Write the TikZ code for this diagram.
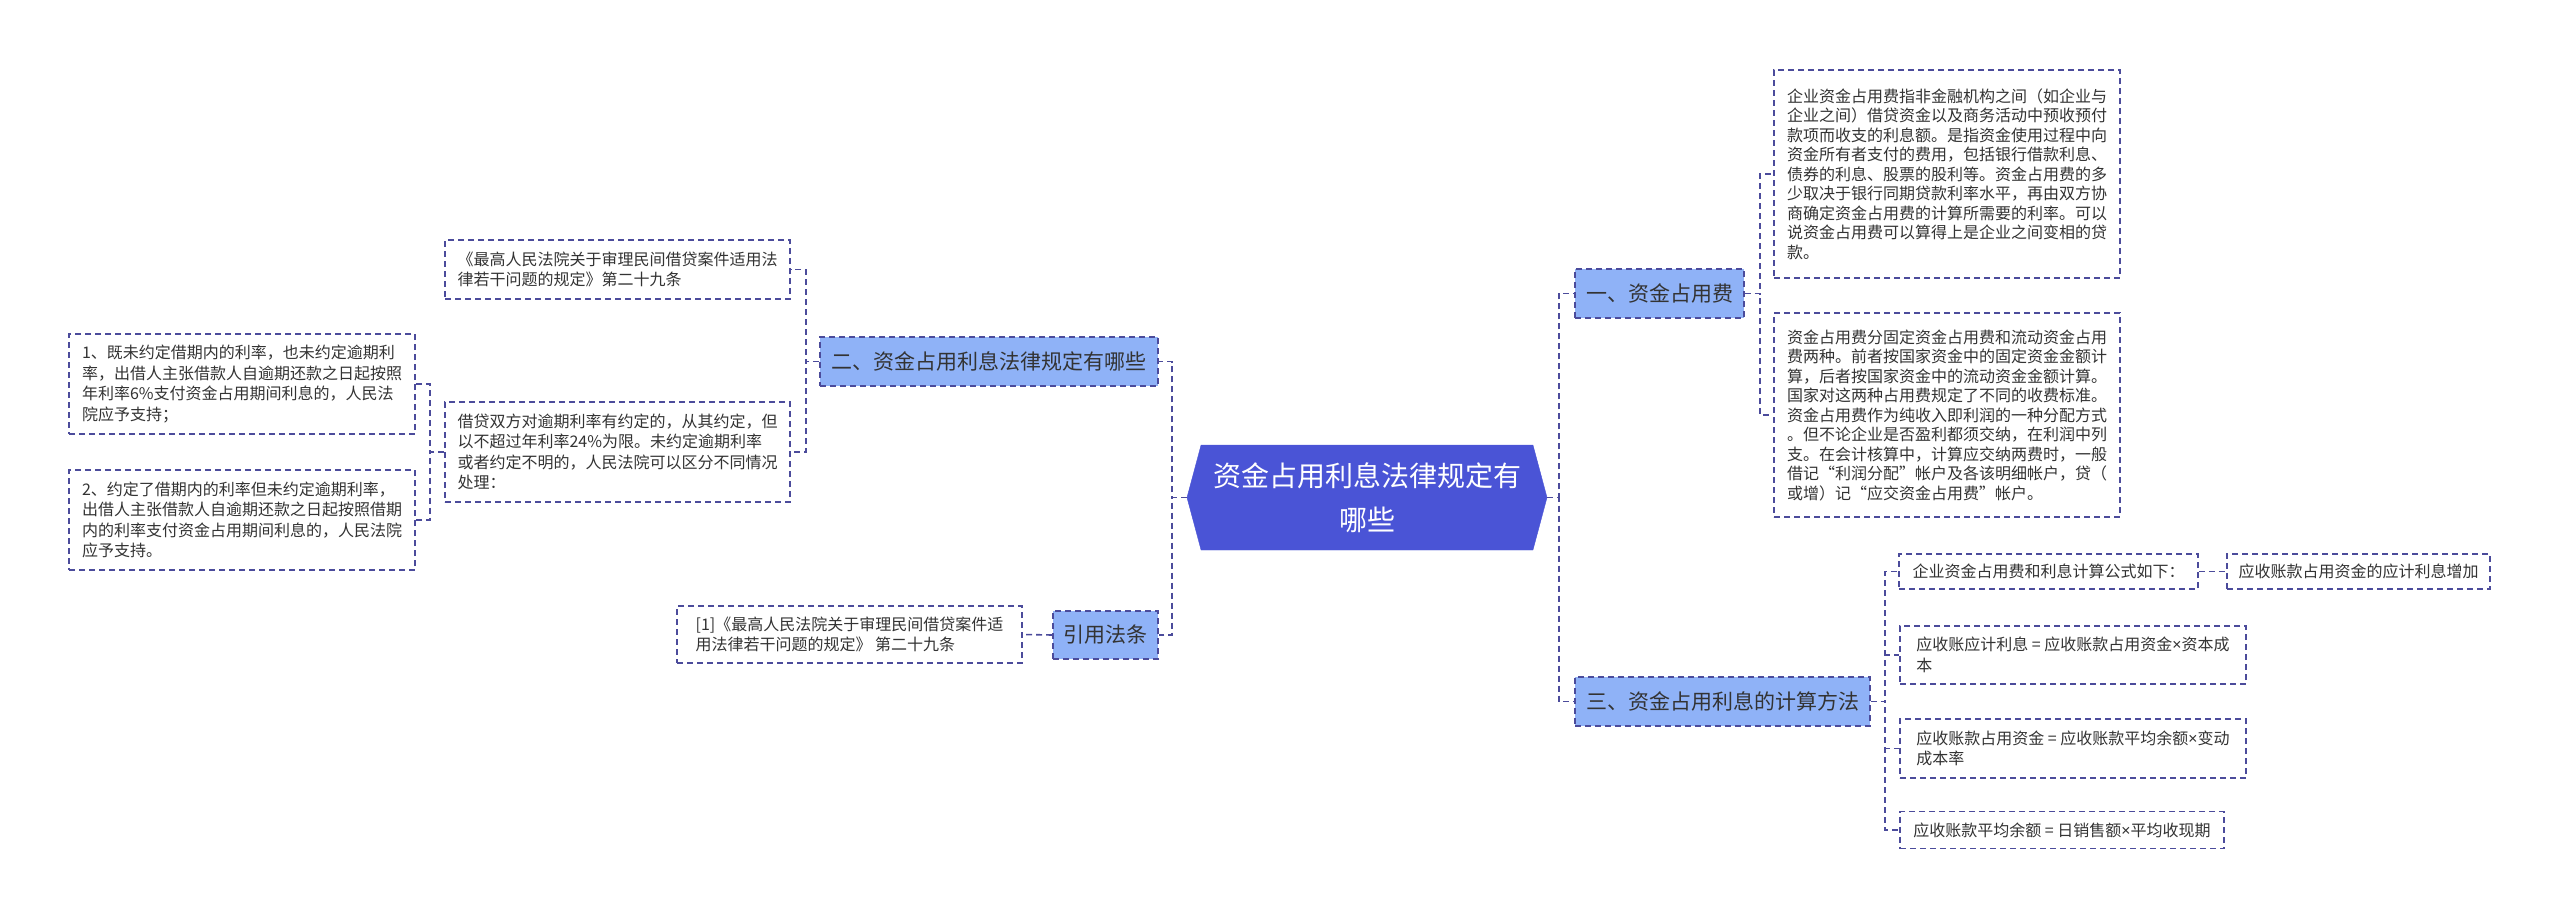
\documentclass[tikz,border=0pt]{standalone}
\usepackage{fontspec}
\setmainfont{Noto Sans CJK SC}
\newfontfamily\latn{Noto Sans}
\usetikzlibrary{shapes.symbols}
\definecolor{lc}{RGB}{75,75,155}
\definecolor{cfill}{RGB}{74,84,214}
\definecolor{bfill}{RGB}{143,178,247}
\definecolor{txt}{RGB}{51,51,51}
\newcommand{\mtimes}{{\latn ×}}
\tikzset{
 conn/.style={draw=lc, line width=1.6pt, dash pattern=on 6pt off 4pt},
 tbox/.style={draw=lc, line width=1.6pt, dash pattern=on 6pt off 4pt, fill=white, text=txt, align=left, inner sep=0pt, font=\fontsize{16}{20.5}\selectfont},
 tboxr/.style={tbox, font=\fontsize{16}{19.5}\selectfont},
 bbox/.style={draw=lc, line width=1.6pt, dash pattern=on 6pt off 4pt, fill=bfill, text=txt, inner sep=0pt, font=\fontsize{21}{25}\selectfont},
 cnode/.style={shape=signal, signal to=west and east, signal pointer angle=150, draw=cfill, fill=cfill, text=white, align=center, inner sep=0pt, font=\fontsize{28}{44}\selectfont},
}
\begin{document}
\begin{tikzpicture}[x=1pt,y=-1pt]
\useasboundingbox (0,0) rectangle (2560,921);
% trunk coordinates
\coordinate (tCL) at (1172,0);
\coordinate (tCR) at (1559,0);
\coordinate (tB2) at (806,0);
\coordinate (tL2) at (430,0);
\coordinate (tB1) at (1760,0);
\coordinate (tB3) at (1885,0);

% center
\node[cnode, minimum width=360pt, minimum height=105pt] (c) at (1367,497.5) {资金占用利息法律规定有\\哪些};

% right branches
\node[bbox, minimum width=169pt, minimum height=49pt] (b1) at (1659.5,293.5) {一、资金占用费};
\node[bbox, minimum width=295pt, minimum height=49pt] (b3) at (1722.5,701.5) {三、资金占用利息的计算方法};

\node[tboxr, minimum width=346pt, minimum height=208pt] (a1) at (1947,174) {企业资金占用费指非金融机构之间（如企业与\\企业之间）借贷资金以及商务活动中预收预付\\款项而收支的利息额。是指资金使用过程中向\\资金所有者支付的费用，包括银行借款利息、\\债券的利息、股票的股利等。资金占用费的多\\少取决于银行同期贷款利率水平，再由双方协\\商确定资金占用费的计算所需要的利率。可以\\说资金占用费可以算得上是企业之间变相的贷\\款。};
\node[tboxr, minimum width=346pt, minimum height=204pt] (a2) at (1947,415) {资金占用费分固定资金占用费和流动资金占用\\费两种。前者按国家资金中的固定资金金额计\\算，后者按国家资金中的流动资金金额计算。\\国家对这两种占用费规定了不同的收费标准。\\资金占用费作为纯收入即利润的一种分配方式\\。但不论企业是否盈利都须交纳，在利润中列\\支。在会计核算中，计算应交纳两费时，一般\\借记“利润分配”帐户及各该明细帐户，贷（\\或增）记“应交资金占用费”帐户。};

\node[tbox, minimum width=299pt, minimum height=35pt] (f1) at (2048.5,571.5) {企业资金占用费和利息计算公式如下：};
\node[tbox, minimum width=263pt, minimum height=35pt] (f1b) at (2358.5,571.5) {应收账款占用资金的应计利息增加};
\node[tbox, minimum width=346pt, minimum height=58pt] (f2) at (2073,655) {应收账应计利息 = 应收账款占用资金\mtimes 资本成\\本};
\node[tbox, minimum width=346pt, minimum height=59pt] (f3) at (2073,748.5) {应收账款占用资金 = 应收账款平均余额\mtimes 变动\\成本率};
\node[tbox, minimum width=324pt, minimum height=37pt] (f4) at (2062,830) {应收账款平均余额 = 日销售额\mtimes 平均收现期};

% left branches
\node[bbox, minimum width=338pt, minimum height=49pt] (b2) at (989,361.5) {二、资金占用利息法律规定有哪些};
\node[bbox, minimum width=105pt, minimum height=48pt] (b4) at (1105.5,635) {引用法条};

\node[tbox, minimum width=345pt, minimum height=57pt] (r1) at (849.5,634.5) {[1]《最高人民法院关于审理民间借贷案件适\\用法律若干问题的规定》 第二十九条};
\node[tbox, minimum width=345pt, minimum height=59pt] (l1) at (617.5,269.5) {《最高人民法院关于审理民间借贷案件适用法\\律若干问题的规定》第二十九条};
\node[tbox, minimum width=345pt, minimum height=100pt] (l2) at (617.5,452) {借贷双方对逾期利率有约定的，从其约定，但\\以不超过年利率24\%为限。未约定逾期利率\\或者约定不明的，人民法院可以区分不同情况\\处理：};
\node[tbox, minimum width=346pt, minimum height=100pt] (l3) at (242,384) {1、既未约定借期内的利率，也未约定逾期利\\率，出借人主张借款人自逾期还款之日起按照\\年利率6\%支付资金占用期间利息的，人民法\\院应予支持；};
\node[tbox, minimum width=346pt, minimum height=100pt] (l4) at (242,520) {2、约定了借期内的利率但未约定逾期利率，\\出借人主张借款人自逾期还款之日起按照借期\\内的利率支付资金占用期间利息的，人民法院\\应予支持。};

% connectors
\draw[conn] (c.west) -- (c.west -| tCL) |- (b2.east);
\draw[conn] (c.west) -- (c.west -| tCL) |- (b4.east);
\draw[conn] (c.east) -- (c.east -| tCR) |- (b1.west);
\draw[conn] (c.east) -- (c.east -| tCR) |- (b3.west);
\draw[conn] (b1.east) -- (b1.east -| tB1) |- (a1.west);
\draw[conn] (b1.east) -- (b1.east -| tB1) |- (a2.west);
\draw[conn] (b3.east) -- (b3.east -| tB3) |- (f1.west);
\draw[conn] (b3.east) -- (b3.east -| tB3) |- (f2.west);
\draw[conn] (b3.east) -- (b3.east -| tB3) |- (f3.west);
\draw[conn] (b3.east) -- (b3.east -| tB3) |- (f4.west);
\draw[conn] (f1.east) -- (f1b.west);
\draw[conn] (b4.west) -- (r1.east);
\draw[conn] (b2.west) -- (b2.west -| tB2) |- (l1.east);
\draw[conn] (b2.west) -- (b2.west -| tB2) |- (l2.east);
\draw[conn] (l2.west) -- (l2.west -| tL2) |- (l3.east);
\draw[conn] (l2.west) -- (l2.west -| tL2) |- (l4.east);
\end{tikzpicture}
\end{document}
